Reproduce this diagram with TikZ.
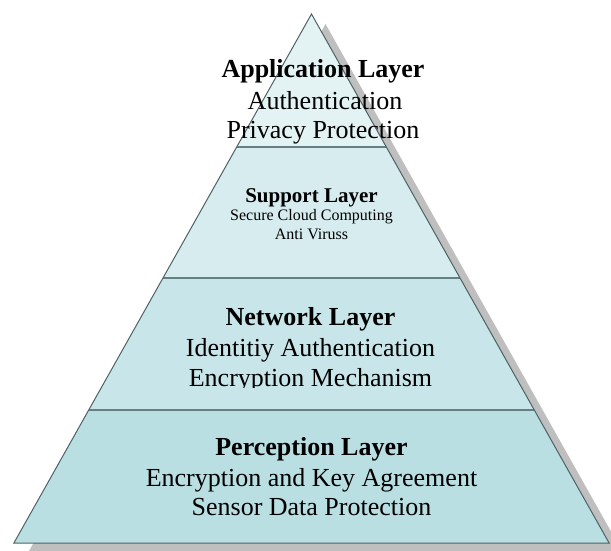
\documentclass[tikz,border=0pt]{standalone}
\usepackage{fontspec}
\setmainfont{Liberation Serif}
\definecolor{layA}{RGB}{227,243,244}
\definecolor{layB}{RGB}{215,236,239}
\definecolor{layC}{RGB}{200,230,233}
\definecolor{layD}{RGB}{185,223,227}
\definecolor{edgecol}{RGB}{78,98,101}
\definecolor{divl}{RGB}{100,128,130}
\definecolor{shadowgray}{RGB}{191,191,191}
\begin{document}
\begin{tikzpicture}[x=1pt,y=-1pt,
  txt/.style={anchor=base,inner sep=0pt,text=black},
  bigt/.style={txt,font=\fontsize{26}{30}\selectfont\bfseries},
  bigl/.style={txt,font=\fontsize{26}{30}\selectfont},
  midt/.style={txt,font=\fontsize{21}{24}\selectfont\bfseries},
  smll/.style={txt,font=\fontsize{16}{18}\selectfont},
  divider/.style={draw=divl,line width=1.8pt},
  outline/.style={draw=edgecol,line width=1pt,line join=miter}]
\useasboundingbox (0,0) rectangle (611,550);
\clip (0,0) rectangle (611,550);
% corners
\coordinate (apex) at (311.5,14);
\coordinate (l1) at (236.7,147); \coordinate (r1) at (386.3,147);
\coordinate (l2) at (163,278);   \coordinate (r2) at (460,278);
\coordinate (l3) at (88.75,410); \coordinate (r3) at (534.25,410);
\coordinate (l4) at (13.9,543);  \coordinate (r4) at (609.1,543);
% shadow corners
\coordinate (sa) at (325.5,24);
\coordinate (sl) at (27.9,553);
\coordinate (sr) at (623.1,553);
% shadow
\fill[shadowgray] (sa) -- (sl) -- (sr) -- cycle;
% layers
\fill[layA] (apex) -- (l1) -- (r1) -- cycle;
\fill[layB] (l1) -- (l2) -- (r2) -- (r1) -- cycle;
\fill[layC] (l2) -- (l3) -- (r3) -- (r2) -- cycle;
\fill[layD] (l3) -- (l4) -- (r4) -- (r3) -- cycle;
\draw[divider] (l1) -- (r1);
\draw[divider] (l2) -- (r2);
\draw[divider] (l3) -- (r3);
\draw[outline] (apex) -- (l4) -- (r4) -- cycle;
% texts
\node[bigt] (a1) at (323,77.7) {Application Layer};
\node[bigl] (a2) at (325,109) {Authentication};
\node[bigl] (a3) at (323,138.5) {Privacy Protection};
\node[midt] (s1) at (311.5,202.7) {Support Layer};
\node[smll] (s2) at (311.5,220.7) {Secure Cloud Computing};
\node[smll] (s3) at (311.5,239) {Anti Viruss};
\node[bigt] (n1) at (310.5,325) {Network Layer};
\node[bigl] (n2) at (310.5,356.5) {Identitiy Authentication};
\begin{scope}
\clip (0,300) rectangle (611,387);
\node[bigl] (n3) at (310.5,386) {Encryption Mechanism};
\end{scope}
\node[bigt] (p1) at (311.5,455.7) {Perception Layer};
\node[bigl] (p2) at (311.5,486) {Encryption and Key Agreement};
\node[bigl] (p3) at (311.5,515.7) {Sensor Data Protection};
\end{tikzpicture}
\end{document}
